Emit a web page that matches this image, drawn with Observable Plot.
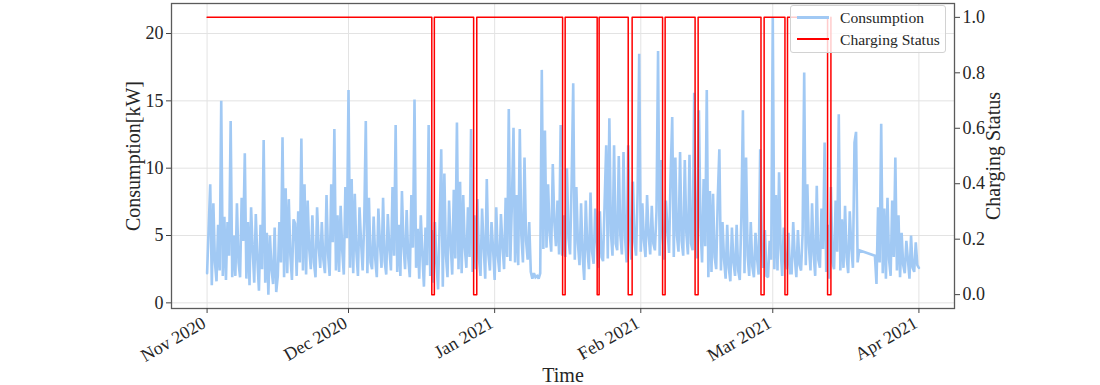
<!DOCTYPE html>
<html><head><meta charset="utf-8">
<script src="https://cdn.jsdelivr.net/npm/d3@7"></script>
<script src="https://cdn.jsdelivr.net/npm/@observablehq/plot@0.6"></script>
<style>
body{margin:0;background:#fff;}
#chart{position:relative;width:1100px;height:385px;overflow:hidden;font-family:'Liberation Serif','Times New Roman',serif;}
#legend{position:absolute;left:790px;top:5px;width:156px;height:48px;box-sizing:border-box;border:1px solid #d2d2d2;border-radius:3px;background:rgba(255,255,255,0.8);}
.lg{position:absolute;left:6px;width:32px;}
.lt{position:absolute;left:49px;font-size:15.6px;color:#262626;line-height:1;white-space:nowrap;}
</style>
</head><body><div id="chart"><div id="legend">
<div class="lg" style="top:10px;height:3px;background:#a1c9f4"></div><div class="lt" style="top:4px">Consumption</div>
<div class="lg" style="top:32px;height:2px;background:#ff0000"></div><div class="lt" style="top:26px">Charging Status</div>
</div></div>
<script>
// Consumption [kW], one value every 8 hours from 2020-11-01 00:00 (null = missing)
const consumptionStart = "2020-11-01T00:00:00Z";
const consumptionStepHours = 8;
const consumption = [
 2.2,5.6,8.8, 1.3,7.4,3.0, 1.6,5.8,2.4, 15.0,2.0,6.4, 1.7,6.0,3.5, 13.5,1.9,5.0, 2.0,7.4,3.0,
 1.9,7.8,4.6, 11.1,1.8,6.0, 1.3,7.1,4.0, 1.5,6.6,3.2, 0.9,5.8,2.5, 12.1,1.5,5.2, 0.6,5.0,2.5,
 1.4,5.6,0.8, 2.0,6.0,3.0, 12.3,1.9,8.5, 2.2,7.7,3.5, 1.7,6.2,5.9, 2.0,6.8,3.0, 12.2,2.4,8.8,
 2.1,7.6,4.0, 2.5,6.5,3.0, 1.9,7.1,4.2, 2.6,6.0,3.2, 2.2,8.0,3.6, 2.0,8.8,4.5, 12.9,2.4,6.5,
 2.3,7.2,3.9, 2.1,8.6,4.8,
 15.8,2.6,9.2, 2.2,8.1,3.8, 2.0,7.1,4.5, 2.4,6.0,13.5, 2.2,7.8,3.0, 2.5,6.4,3.3, 1.9,7.0,4.4,
 2.6,7.8,3.1, 2.1,6.6,4.0, 2.4,8.6,3.5, 13.2,2.3,5.8, 2.0,8.3,4.2, 2.5,6.9,3.4, 1.9,8.0,4.1,
 15.1,2.6,5.5, 1.8,6.5,3.6, 1.2,5.6,2.8, 13.2,2.0,5.4, 1.5,6.0,2.9, 1.0,5.8,11.4, 1.2,9.6,3.5,
 1.9,7.6,4.4, 2.1,8.4,3.3, 13.4,2.5,9.0, 2.2,8.0,4.1, 2.6,7.1,3.4, 12.9,2.3,6.5, 2.5,7.7,3.3,
 2.0,7.0,4.2, 1.8,9.2,3.6, 2.4,6.0,4.0,
 1.7,7.1,3.5, 2.3,6.6,4.2, 2.5,7.8,3.4, 14.4,3.1,7.5, 13.0,3.0,8.0, 2.8,12.9,5.0, 3.0,10.8,4.6,
 3.2,6.0,2.3, 1.8,2.2,1.9, 2.0,1.8,2.2, 17.3,4.0,12.8, 4.1,8.8,5.2, 3.8,10.3,6.0, 4.2,7.6,3.6,
 13.2,3.5,6.5, 3.4,10.0,4.8, 3.6,9.0,16.3, 3.2,8.6,4.4, 2.8,7.4,3.5, 1.7,7.6,4.0, 2.5,8.2,3.8,
 2.9,7.0,4.6, 2.6,6.8,3.4, 3.1,7.5,11.7, 3.3,13.7,5.2, 3.5,11.7,4.4, 3.9,10.9,5.0, 3.6,11.2,4.8,
 3.0,11.7,5.4, 3.2,9.0,4.5, 3.5,8.2,18.5,
 3.8,7.4,4.6, 3.4,8.0,5.0, 3.6,7.2,4.4, 3.9,6.8,18.7, 3.5,10.6,4.8, 3.2,7.6,5.5, 3.7,9.5,13.8,
 3.4,10.8,5.0, 3.8,11.2,4.6, 3.5,10.6,5.2, 3.6,11.0,4.4, 3.9,15.6,5.0, 3.3,14.3,5.6, 3.0,9.2,4.2,
 15.8,1.9,8.3, 2.3,8.1,3.4, 2.5,7.8,11.4, 2.4,6.0,3.2, 1.8,5.8,2.6, 1.6,5.6,3.0, 2.0,5.8,2.4,
 1.7,6.3,14.3, 2.2,10.8,3.5, 2.0,6.0,2.7, 1.9,5.2,3.3, 2.1,11.4,4.0, 2.6,5.4,2.0, 1.9,4.6,3.2,
 21.2,2.5,8.0, 2.4,9.7,4.0, 2.0,5.6,3.0, 2.5,5.2,2.2, 2.2,6.0,3.4, 1.9,5.4,2.8, 2.4,5.2,17.1,
 2.8,8.8,4.2, 2.4,7.4,3.6, 2.0,8.7,3.2, 2.6,7.0,4.0, 11.9,2.3,5.8, 1.8,8.6,3.0, 2.5,7.6,3.8,
 14.0,2.4,6.2, 2.6,7.2,3.4, 2.2,6.8,4.1, 2.6,11.9,12.7, 3.0,3.9,null, null,null,null, null,null,null,
 null,null,3.5, 1.4,7.1,3.0, 13.3,2.2,7.0, 1.8,7.8,3.2, 2.0,7.6,3.4, 10.8,2.4,6.5, 1.9,5.2,2.8,
 2.2,4.6,3.2, 1.8,5.0,2.6, 2.3,4.5,2.8,
 2.6
];
// Charging status change points (step after)
const chargeTimes = [
 "2020-11-01T00:00Z",
 "2020-12-18T16:00Z","2020-12-19T05:00Z",
 "2020-12-27T13:00Z","2020-12-28T05:00Z",
 "2021-01-15T10:00Z","2021-01-15T23:00Z",
 "2021-01-22T18:00Z","2021-01-23T04:00Z",
 "2021-01-29T08:00Z","2021-01-30T04:00Z",
 "2021-02-05T15:00Z","2021-02-06T04:00Z",
 "2021-02-12T12:30Z","2021-02-13T04:00Z",
 "2021-02-26T12:00Z","2021-02-27T04:00Z",
 "2021-03-03T14:00Z","2021-03-04T03:00Z",
 "2021-03-12T15:00Z","2021-03-13T08:00Z"
];
const chargeValues = [1, 0,1, 0,1, 0,1, 0,1, 0,1, 0,1, 0,1, 0,1, 0,1, 0,1];
const xTickDates = ["2020-11-01","2020-12-01","2021-01-01","2021-02-01","2021-03-01","2021-04-01"];
const xTickLabels = ["Nov 2020","Dec 2020","Jan 2021","Feb 2021","Mar 2021","Apr 2021"];
const yLeftTicks = [0, 5, 10, 15, 20];
const yRightTicks = [0.0, 0.2, 0.4, 0.6, 0.8, 1.0];

const yMin = -0.42, yMax = 22.23, sMin = -0.05, sMax = 1.05;
const toLeft = s => yMin + (s - sMin) / (sMax - sMin) * (yMax - yMin);
const toRight = v => (v - yMin) / (yMax - yMin) * (sMax - sMin) + sMin;

const t0 = new Date(consumptionStart).getTime();
const consData = consumption
  .map((v, i) => ({t: new Date(t0 + i * consumptionStepHours * 3600e3), v}))
  .filter(d => d.v !== null);
const chargeData = chargeTimes.map((t, i) => ({t: new Date(t), s: chargeValues[i]}));
const xTicks = xTickDates.map(d => new Date(d + "T00:00:00Z"));
const font = "'Liberation Serif','Times New Roman',serif";

const chart = Plot.plot({
  width: 1100, height: 385,
  marginLeft: 171, marginRight: 146, marginTop: 3, marginBottom: 77,
  x: {type: "utc", domain: [new Date("2020-10-24T10:48:00Z"), new Date("2021-04-08T13:12:00Z")]},
  y: {domain: [yMin, yMax]},
  style: {fontFamily: font, fontSize: "18px", color: "#262626", background: "#fff"},
  marks: [
    Plot.gridX(xTicks, {stroke: "#e3e3e3", strokeOpacity: 1, strokeWidth: 1}),
    Plot.gridY(yLeftTicks, {stroke: "#e3e3e3", strokeOpacity: 1, strokeWidth: 1}),
    Plot.lineY(consData, {x: "t", y: "v", stroke: "#a1c9f4", strokeWidth: 2.6, strokeLinejoin: "miter", strokeMiterlimit: 2}),
    Plot.line(chargeData, {x: "t", y: d => toLeft(d.s), stroke: "#ff0000", strokeWidth: 1.5, curve: "step-after"}),
    Plot.frame({stroke: "#5b5b5b", strokeWidth: 1.3}),
    Plot.axisX(xTicks, {tickSize: 5, tickFormat: () => "", label: null, stroke: "#444"}),
    Plot.text(xTicks, {x: d => d, text: (d, i) => xTickLabels[i], frameAnchor: "bottom", dy: 18, dx: 0,
      rotate: -30, textAnchor: "end", lineAnchor: "bottom", fontSize: 18, fill: "#262626"}),
    Plot.axisY(yLeftTicks, {anchor: "left", tickSize: 5, tickPadding: 3, fontSize: 18, label: null,
      stroke: "#444", fill: "#262626", tickFormat: d => String(d)}),
    Plot.axisY(yRightTicks.map(toLeft), {anchor: "right", tickSize: 5, tickPadding: 3, fontSize: 18, label: null,
      stroke: "#444", fill: "#262626", tickFormat: d => (Math.round(toRight(d) * 10) / 10).toFixed(1)}),
    Plot.text(["Consumption[kW]"], {text: d => d, frameAnchor: "left", dx: -38, rotate: -90,
      textAnchor: "middle", lineAnchor: "middle", fontSize: 20, fill: "#262626"}),
    Plot.text(["Charging Status"], {text: d => d, frameAnchor: "right", dx: 39, rotate: -90,
      textAnchor: "middle", lineAnchor: "middle", fontSize: 20, fill: "#262626"}),
    Plot.text(["Time"], {text: d => d, frameAnchor: "bottom", dy: 73,
      textAnchor: "middle", lineAnchor: "bottom", fontSize: 20, fill: "#262626"})
  ]
});
const holder = document.getElementById("chart");
holder.insertBefore(chart, holder.firstChild);
</script>
</body></html>
